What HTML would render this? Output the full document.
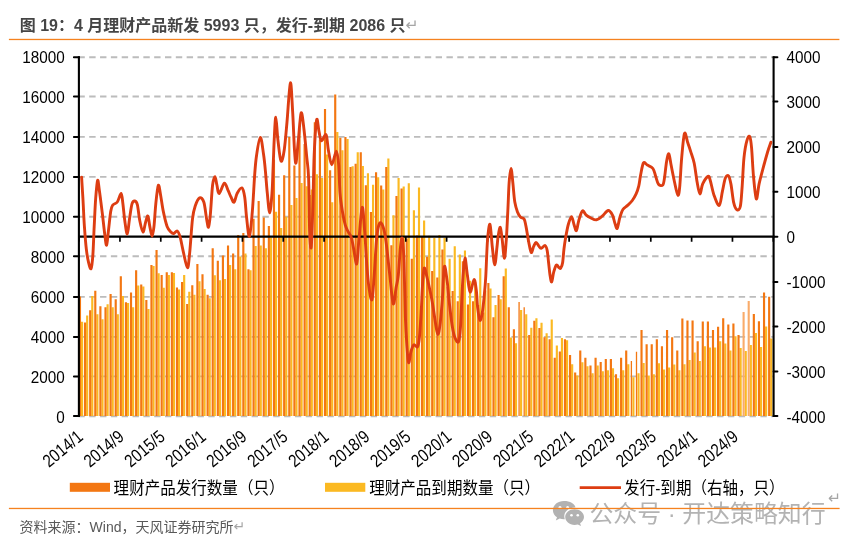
<!DOCTYPE html>
<html lang="zh-CN"><head><meta charset="utf-8"><title>图19</title>
<style>html,body{margin:0;padding:0;background:#fff}svg{display:block;isolation:isolate;mix-blend-mode:multiply}</style></head>
<body>
<svg width="854" height="548" viewBox="0 0 854 548">
<rect width="854" height="548" fill="#ffffff"/>
<g stroke="#bcbcbc" stroke-width="1.9" stroke-dasharray="6.4 4.425" fill="none">
<path d="M78.4 57.30H772.8"/>
<path d="M78.4 96.50H772.8"/>
<path d="M78.4 136.90H772.8"/>
<path d="M78.4 176.90H772.8"/>
<path d="M78.4 216.70H772.8"/>
<path d="M78.4 256.20H772.8"/>
<path d="M78.4 296.90H772.8"/>
<path d="M78.4 336.90H772.8"/>
<path d="M78.4 376.40H772.8"/>
<path d="M78.4 416.40H772.8"/>
</g>
<path fill="#fbb922" d="M81.00 416.0V321.7h2.15V416.0zM86.11 416.0V315.4h2.15V416.0zM91.21 416.0V296.1h2.15V416.0zM96.31 416.0V314.2h2.15V416.0zM101.42 416.0V319.3h2.15V416.0zM106.53 416.0V304.2h2.15V416.0zM111.63 416.0V307.2h2.15V416.0zM116.73 416.0V314.2h2.15V416.0zM121.84 416.0V296.1h2.15V416.0zM126.95 416.0V303.1h2.15V416.0zM132.05 416.0V307.2h2.15V416.0zM137.16 416.0V285.5h2.15V416.0zM142.26 416.0V286.5h2.15V416.0zM147.37 416.0V308.9h2.15V416.0zM152.47 416.0V266h2.15V416.0zM157.58 416.0V273.3h2.15V416.0zM162.68 416.0V287.8h2.15V416.0zM167.78 416.0V275.1h2.15V416.0zM172.89 416.0V273h2.15V416.0zM178.00 416.0V289.4h2.15V416.0zM183.10 416.0V275.1h2.15V416.0zM188.21 416.0V291.7h2.15V416.0zM193.31 416.0V294.8h2.15V416.0zM198.41 416.0V281.2h2.15V416.0zM203.52 416.0V288.9h2.15V416.0zM208.63 416.0V298.3h2.15V416.0zM213.73 416.0V275.2h2.15V416.0zM218.84 416.0V280.2h2.15V416.0zM223.94 416.0V279.1h2.15V416.0zM229.05 416.0V265h2.15V416.0zM234.15 416.0V269.3h2.15V416.0zM239.26 416.0V256.6h2.15V416.0zM244.36 416.0V253.5h2.15V416.0zM249.47 416.0V270.2h2.15V416.0zM254.57 416.0V246.1h2.15V416.0zM259.68 416.0V245.4h2.15V416.0zM264.78 416.0V248.2h2.15V416.0zM269.89 416.0V237.6h2.15V416.0zM274.99 416.0V211.8h2.15V416.0zM280.10 416.0V228.1h2.15V416.0zM285.20 416.0V216.7h2.15V416.0zM290.31 416.0V205.1h2.15V416.0zM295.41 416.0V198.1h2.15V416.0zM300.52 416.0V183h2.15V416.0zM305.62 416.0V186.3h2.15V416.0zM310.73 416.0V189.6h2.15V416.0zM315.83 416.0V174.2h2.15V416.0zM320.94 416.0V178.1h2.15V416.0zM326.04 416.0V154.6h2.15V416.0zM331.15 416.0V202.3h2.15V416.0zM336.25 416.0V132h2.15V416.0zM341.36 416.0V150.3h2.15V416.0zM346.46 416.0V139h2.15V416.0zM351.57 416.0V166.2h2.15V416.0zM356.67 416.0V152.3h2.15V416.0zM361.78 416.0V166.1h2.15V416.0zM366.88 416.0V173.2h2.15V416.0zM371.99 416.0V184.7h2.15V416.0zM377.09 416.0V177.3h2.15V416.0zM382.20 416.0V189.6h2.15V416.0zM387.30 416.0V158.4h2.15V416.0zM392.41 416.0V215.3h2.15V416.0zM397.51 416.0V178.1h2.15V416.0zM402.62 416.0V186.5h2.15V416.0zM407.72 416.0V183.3h2.15V416.0zM412.83 416.0V210.3h2.15V416.0zM417.93 416.0V187.5h2.15V416.0zM423.04 416.0V220.4h2.15V416.0zM428.14 416.0V235.8h2.15V416.0zM433.25 416.0V237.9h2.15V416.0zM438.35 416.0V235h2.15V416.0zM443.46 416.0V238h2.15V416.0zM448.56 416.0V258.8h2.15V416.0zM453.67 416.0V246.3h2.15V416.0zM458.77 416.0V254.6h2.15V416.0zM463.88 416.0V250.4h2.15V416.0zM468.98 416.0V280.7h2.15V416.0zM474.09 416.0V281.9h2.15V416.0zM479.19 416.0V268.2h2.15V416.0zM484.30 416.0V290.6h2.15V416.0zM489.40 416.0V288.5h2.15V416.0zM494.51 416.0V304.9h2.15V416.0zM499.61 416.0V299.2h2.15V416.0zM504.72 416.0V268.4h2.15V416.0zM509.82 416.0V337.4h2.15V416.0zM514.93 416.0V343.3h2.15V416.0zM520.03 416.0V310.1h2.15V416.0zM525.14 416.0V314.2h2.15V416.0zM530.24 416.0V327.7h2.15V416.0zM535.35 416.0V318.3h2.15V416.0zM540.45 416.0V322.8h2.15V416.0zM545.56 416.0V333.3h2.15V416.0zM550.66 416.0V319.5h2.15V416.0zM555.77 416.0V345.4h2.15V416.0zM560.87 416.0V338.1h2.15V416.0zM565.98 416.0V340.2h2.15V416.0zM571.08 416.0V364.2h2.15V416.0zM576.19 416.0V375.4h2.15V416.0zM581.29 416.0V362.2h2.15V416.0zM586.40 416.0V366.2h2.15V416.0zM591.50 416.0V373.2h2.15V416.0zM596.61 416.0V365.4h2.15V416.0zM601.71 416.0V371.3h2.15V416.0zM606.82 416.0V370.3h2.15V416.0zM611.92 416.0V368.3h2.15V416.0zM617.03 416.0V378.3h2.15V416.0zM622.13 416.0V370.3h2.15V416.0zM627.24 416.0V364.2h2.15V416.0zM632.34 416.0V377.3h2.15V416.0zM637.45 416.0V373.2h2.15V416.0zM642.55 416.0V363.1h2.15V416.0zM647.66 416.0V375.4h2.15V416.0zM652.76 416.0V374.2h2.15V416.0zM657.87 416.0V363.3h2.15V416.0zM662.97 416.0V369.4h2.15V416.0zM668.08 416.0V367.4h2.15V416.0zM673.18 416.0V364.4h2.15V416.0zM678.29 416.0V370.3h2.15V416.0zM683.39 416.0V364.2h2.15V416.0zM688.50 416.0V360.1h2.15V416.0zM693.60 416.0V352.4h2.15V416.0zM698.71 416.0V360.9h2.15V416.0zM703.81 416.0V346.3h2.15V416.0zM708.92 416.0V347.5h2.15V416.0zM714.02 416.0V347.5h2.15V416.0zM719.12 416.0V341.3h2.15V416.0zM724.23 416.0V343.4h2.15V416.0zM729.34 416.0V350.4h2.15V416.0zM734.44 416.0V336.3h2.15V416.0zM739.55 416.0V348.1h2.15V416.0zM744.65 416.0V351h2.15V416.0zM749.76 416.0V345.0h2.15V416.0zM754.86 416.0V332.9h2.15V416.0zM759.97 416.0V347.1h2.15V416.0zM765.07 416.0V326.6h2.15V416.0zM770.18 416.0V338.5h2.15V416.0z"/>
<path fill="#f37712" d="M78.90 416.0V296.4h2.15V416.0zM84.01 416.0V322.6h2.15V416.0zM89.11 416.0V310.2h2.15V416.0zM94.22 416.0V290.8h2.15V416.0zM99.32 416.0V306.2h2.15V416.0zM104.43 416.0V307.2h2.15V416.0zM109.53 416.0V293.9h2.15V416.0zM114.64 416.0V299.2h2.15V416.0zM119.74 416.0V276.2h2.15V416.0zM124.85 416.0V302.2h2.15V416.0zM129.95 416.0V292.6h2.15V416.0zM135.06 416.0V270.2h2.15V416.0zM140.16 416.0V284.5h2.15V416.0zM145.27 416.0V300h2.15V416.0zM150.37 416.0V265h2.15V416.0zM155.48 416.0V250.1h2.15V416.0zM160.58 416.0V275.1h2.15V416.0zM165.69 416.0V272.3h2.15V416.0zM170.79 416.0V272.3h2.15V416.0zM175.90 416.0V287.5h2.15V416.0zM181.00 416.0V282.1h2.15V416.0zM186.11 416.0V303.9h2.15V416.0zM191.21 416.0V285.3h2.15V416.0zM196.31 416.0V264.1h2.15V416.0zM201.42 416.0V274.2h2.15V416.0zM206.53 416.0V294.8h2.15V416.0zM211.63 416.0V248.2h2.15V416.0zM216.74 416.0V260.8h2.15V416.0zM221.84 416.0V255.6h2.15V416.0zM226.95 416.0V245.4h2.15V416.0zM232.05 416.0V253.5h2.15V416.0zM237.16 416.0V235.1h2.15V416.0zM242.26 416.0V233h2.15V416.0zM247.37 416.0V269.3h2.15V416.0zM252.47 416.0V218.8h2.15V416.0zM257.58 416.0V200.9h2.15V416.0zM262.68 416.0V217.4h2.15V416.0zM267.79 416.0V226.1h2.15V416.0zM272.89 416.0V159.6h2.15V416.0zM278.00 416.0V194.7h2.15V416.0zM283.10 416.0V175.3h2.15V416.0zM288.21 416.0V136.9h2.15V416.0zM293.31 416.0V165.5h2.15V416.0zM298.42 416.0V128.3h2.15V416.0zM303.52 416.0V143.9h2.15V416.0zM308.62 416.0V195h2.15V416.0zM313.73 416.0V122.2h2.15V416.0zM318.84 416.0V139.5h2.15V416.0zM323.94 416.0V108.9h2.15V416.0zM329.05 416.0V170.2h2.15V416.0zM334.15 416.0V94.5h2.15V416.0zM339.25 416.0V137.8h2.15V416.0zM344.36 416.0V137.1h2.15V416.0zM349.47 416.0V167.1h2.15V416.0zM354.57 416.0V163.8h2.15V416.0zM359.68 416.0V152.3h2.15V416.0zM364.78 416.0V185.3h2.15V416.0zM369.88 416.0V212.1h2.15V416.0zM374.99 416.0V172.3h2.15V416.0zM380.10 416.0V185.4h2.15V416.0zM385.20 416.0V166.9h2.15V416.0zM390.31 416.0V245.2h2.15V416.0zM395.41 416.0V196h2.15V416.0zM400.51 416.0V188.5h2.15V416.0zM405.62 416.0V238.6h2.15V416.0zM410.73 416.0V258.8h2.15V416.0zM415.83 416.0V235.6h2.15V416.0zM420.94 416.0V235.9h2.15V416.0zM426.04 416.0V256.8h2.15V416.0zM431.14 416.0V271.1h2.15V416.0zM436.25 416.0V277.5h2.15V416.0zM441.36 416.0V249.4h2.15V416.0zM446.46 416.0V286.8h2.15V416.0zM451.57 416.0V291h2.15V416.0zM456.67 416.0V301.2h2.15V416.0zM461.78 416.0V261.3h2.15V416.0zM466.88 416.0V304.4h2.15V416.0zM471.99 416.0V301.2h2.15V416.0zM477.09 416.0V305h2.15V416.0zM482.20 416.0V312.4h2.15V416.0zM487.30 416.0V283h2.15V416.0zM492.41 416.0V317.3h2.15V416.0zM497.51 416.0V294.9h2.15V416.0zM502.62 416.0V276.2h2.15V416.0zM507.72 416.0V307.3h2.15V416.0zM512.83 416.0V329.2h2.15V416.0zM518.43 416.0V302.1h1.3V416.0zM523.54 416.0V307.3h1.3V416.0zM528.14 416.0V335.1h2.15V416.0zM533.25 416.0V320.7h2.15V416.0zM538.35 416.0V328.1h2.15V416.0zM543.46 416.0V337.2h2.15V416.0zM548.56 416.0V339.2h2.15V416.0zM553.67 416.0V357.8h2.15V416.0zM558.77 416.0V351.6h2.15V416.0zM563.88 416.0V339.3h2.15V416.0zM568.98 416.0V354.9h2.15V416.0zM574.09 416.0V372.4h2.15V416.0zM579.19 416.0V350.5h2.15V416.0zM584.30 416.0V357.8h2.15V416.0zM589.40 416.0V365.4h2.15V416.0zM594.50 416.0V357.8h2.15V416.0zM599.61 416.0V362.1h2.15V416.0zM604.72 416.0V359h2.15V416.0zM609.82 416.0V359h2.15V416.0zM614.93 416.0V374.2h2.15V416.0zM620.03 416.0V357.8h2.15V416.0zM625.13 416.0V350.5h2.15V416.0zM630.74 416.0V361h1.3V416.0zM635.85 416.0V351.7h1.3V416.0zM640.45 416.0V329.9h2.15V416.0zM645.56 416.0V344.3h2.15V416.0zM650.66 416.0V344.3h2.15V416.0zM655.76 416.0V339.3h2.15V416.0zM660.87 416.0V346.3h2.15V416.0zM665.98 416.0V330.1h2.15V416.0zM671.08 416.0V337.2h2.15V416.0zM676.19 416.0V350.4h2.15V416.0zM681.29 416.0V318.4h2.15V416.0zM686.39 416.0V320.5h2.15V416.0zM691.50 416.0V320.5h2.15V416.0zM696.61 416.0V341.3h2.15V416.0zM701.71 416.0V321.4h2.15V416.0zM706.82 416.0V321.4h2.15V416.0zM711.92 416.0V330.1h2.15V416.0zM717.02 416.0V326.8h2.15V416.0zM722.13 416.0V318.3h2.15V416.0zM727.24 416.0V324.6h2.15V416.0zM732.34 416.0V323.6h2.15V416.0zM737.45 416.0V334.9h2.15V416.0zM752.76 416.0V314.1h2.15V416.0zM757.87 416.0V321.2h2.15V416.0zM762.97 416.0V292.5h2.15V416.0zM768.08 416.0V296.8h2.15V416.0z"/>
<path fill="#f9ab6a" d="M742.55 416.0V312.1h2.1V416.0zM747.66 416.0V301.1h2.1V416.0z"/>
<path d="M78 236.65H774.5" stroke="#000" stroke-width="2.1" fill="none"/>
<path d="M79.10 236.65v5M119.94 236.65v5M160.77 236.65v5M201.60 236.65v5M242.44 236.65v5M283.27 236.65v5M324.11 236.65v5M364.95 236.65v5M405.78 236.65v5M446.62 236.65v5M487.45 236.65v5M528.28 236.65v5M569.12 236.65v5M609.96 236.65v5M650.79 236.65v5M691.62 236.65v5M732.46 236.65v5M773.30 236.65v5" stroke="#000" stroke-width="1.7" fill="none"/>
<path d="M78.9 56.3V417.05" stroke="#000" stroke-width="2.1" fill="none"/>
<path d="M773.6 56.3V417.05" stroke="#000" stroke-width="2.1" fill="none"/>
<path d="M73.9 57.30H79M73.9 96.50H79M73.9 136.90H79M73.9 176.90H79M73.9 216.70H79M73.9 256.20H79M73.9 296.90H79M73.9 336.90H79M73.9 376.40H79M73.9 416.00H79M773.6 57.30H777.4M773.6 101.60H777.4M773.6 146.90H777.4M773.6 191.80H777.4M773.6 236.65H777.4M773.6 281.90H777.4M773.6 326.60H777.4M773.6 371.40H777.4M773.6 416.00H777.4" stroke="#000" stroke-width="2" stroke-linecap="round" fill="none"/>
<path d="M81.6 177.1C81.8 180.6 82.4 190.0 82.9 198.2C83.4 206.4 83.8 217.9 84.4 226.4C85.0 234.9 85.6 242.9 86.3 248.9C87.0 254.9 87.7 258.8 88.5 262.1C89.3 265.4 90.3 269.9 91.0 268.7C91.7 267.4 92.4 261.6 92.9 254.6C93.4 247.6 93.7 235.8 94.2 226.4C94.7 217.0 95.1 205.9 95.7 198.2C96.3 190.5 97.0 181.6 97.6 180.3C98.2 179.1 98.6 185.2 99.4 190.7C100.2 196.2 101.4 206.0 102.3 213.2C103.2 220.4 104.0 228.6 104.7 233.9C105.4 239.2 106.0 245.8 106.6 245.2C107.2 244.6 107.8 235.8 108.5 230.2C109.2 224.6 110.0 215.6 110.7 211.4C111.4 207.2 111.5 206.8 112.6 205.2C113.7 203.6 115.9 203.9 117.3 202.0C118.7 200.1 120.2 193.2 121.1 193.5C122.0 193.8 122.3 199.2 122.9 203.8C123.5 208.4 124.1 215.8 124.8 220.8C125.5 225.8 126.5 234.2 127.3 233.9C128.1 233.6 128.7 223.9 129.5 218.9C130.3 213.9 131.1 206.8 132.0 203.8C132.9 200.8 133.9 200.8 134.8 201.0C135.7 201.2 136.6 201.5 137.4 204.8C138.2 208.1 138.9 216.3 139.8 220.8C140.7 225.3 142.1 231.7 143.0 232.0C143.9 232.3 144.7 225.3 145.5 222.6C146.3 219.9 147.2 215.4 147.9 216.0C148.6 216.6 149.1 223.0 149.8 226.4C150.5 229.8 151.4 236.2 152.1 236.2C152.8 236.2 153.4 231.8 154.0 226.4C154.6 221.0 155.1 210.6 155.8 203.8C156.5 197.0 157.5 187.0 158.3 185.4C159.1 183.8 159.7 190.1 160.5 194.4C161.3 198.7 162.2 206.1 163.3 211.4C164.4 216.7 165.8 223.0 167.1 226.4C168.4 229.8 169.8 230.8 170.9 232.0C172.0 233.2 172.6 233.7 173.7 233.5C174.8 233.3 176.3 230.4 177.4 231.1C178.5 231.8 179.4 234.4 180.3 237.7C181.2 241.0 181.9 245.8 183.1 250.8C184.3 255.8 186.3 267.4 187.4 267.7C188.5 268.0 188.8 260.8 189.7 252.7C190.5 244.6 191.6 226.7 192.5 218.9C193.4 211.1 194.1 209.2 195.3 205.7C196.5 202.2 198.2 198.4 199.6 197.8C201.0 197.2 202.6 198.5 203.8 202.0C205.0 205.5 205.8 214.7 206.6 218.9C207.4 223.1 207.9 227.9 208.5 227.3C209.1 226.7 209.6 222.2 210.3 215.1C211.0 208.0 211.8 191.4 212.6 185.0C213.4 178.6 214.3 176.6 215.0 176.6C215.7 176.6 216.2 182.2 216.9 185.0C217.6 187.8 217.9 193.8 219.2 193.5C220.4 193.2 222.9 183.7 224.4 183.2C225.9 182.7 227.1 188.4 228.2 190.7C229.3 193.0 230.0 195.1 231.0 197.0C232.0 198.9 233.0 202.8 234.0 202.2C235.0 201.6 235.9 195.6 237.2 193.2C238.5 190.8 240.7 187.3 241.9 187.9C243.2 188.5 243.9 192.1 244.7 197.0C245.5 201.9 245.8 211.0 246.6 217.6C247.4 224.2 248.4 237.3 249.4 236.4C250.4 235.5 251.4 222.3 252.3 212.0C253.2 201.7 254.0 183.8 254.7 174.4C255.4 165.0 255.6 162.0 256.5 155.8C257.4 149.6 259.1 137.7 260.3 137.4C261.5 137.1 262.6 148.2 263.5 154.0C264.4 159.8 264.9 165.5 265.5 172.0C266.1 178.5 266.6 186.4 267.3 193.2C268.0 200.0 268.9 212.9 269.7 212.9C270.5 212.9 271.4 201.2 272.0 193.2C272.6 185.2 272.8 173.9 273.2 165.0C273.6 156.1 273.8 147.9 274.2 140.0C274.6 132.1 275.2 117.2 275.8 117.3C276.4 117.4 277.1 133.5 278.0 140.8C278.9 148.1 280.0 159.5 281.0 161.1C282.0 162.7 283.2 156.7 284.2 150.2C285.2 143.7 286.0 133.2 287.0 122.0C288.0 110.8 289.4 84.5 290.4 82.9C291.3 81.3 292.0 101.4 292.7 112.6C293.4 123.8 293.9 141.8 294.5 150.2C295.1 158.6 295.4 164.6 296.0 163.0C296.6 161.4 297.4 149.1 298.3 140.8C299.2 132.5 300.2 114.9 301.1 113.0C302.1 111.1 303.1 122.0 304.0 129.5C304.9 136.9 306.0 149.6 306.8 157.7C307.6 165.8 308.1 165.8 308.6 178.0C309.1 190.2 309.2 219.2 309.6 230.8C310.0 242.4 310.6 249.3 311.1 247.7C311.6 246.1 312.0 232.1 312.4 221.4C312.8 210.8 313.1 195.7 313.4 183.8C313.7 171.9 313.8 160.9 314.4 150.2C314.9 139.5 315.9 122.8 316.7 119.7C317.5 116.6 318.2 127.9 319.0 131.4C319.8 134.9 320.2 140.2 321.4 140.8C322.6 141.4 324.9 133.2 326.1 134.8C327.3 136.4 327.4 145.2 328.4 150.2C329.3 155.2 330.5 164.7 331.8 164.8C333.1 165.0 335.2 151.0 336.3 151.1C337.4 151.2 338.1 158.2 338.7 165.2C339.3 172.2 339.4 185.4 340.0 193.2C340.6 201.0 341.6 206.7 342.5 212.0C343.4 217.3 344.4 221.9 345.3 225.2C346.2 228.5 347.1 229.7 348.1 231.7C349.1 233.7 350.4 234.4 351.3 237.4C352.2 240.4 352.9 245.2 353.8 249.6C354.7 254.0 355.9 265.4 356.7 263.8C357.5 262.2 358.0 249.4 358.9 240.0C359.8 230.6 361.2 208.7 362.2 207.4C363.2 206.1 363.9 222.4 364.7 232.0C365.5 241.6 366.1 255.6 366.8 265.0C367.5 274.4 368.2 282.5 369.1 288.3C370.0 294.1 371.1 301.8 372.0 299.6C372.9 297.4 373.4 285.5 374.2 275.2C375.0 264.9 375.8 246.2 376.7 237.6C377.6 229.0 378.5 225.4 379.5 223.5C380.5 221.6 381.8 223.3 382.9 226.3C384.0 229.3 384.9 233.2 386.0 241.4C387.1 249.6 388.6 264.8 389.8 275.2C391.0 285.6 392.1 301.7 393.2 303.7C394.3 305.7 395.3 291.8 396.2 287.0C397.1 282.2 397.6 281.9 398.3 275.2C399.0 268.5 399.8 253.1 400.5 247.0C401.2 240.9 401.8 236.0 402.4 238.5C403.0 241.0 403.5 248.8 404.0 262.0C404.5 275.2 404.9 303.6 405.4 317.6C405.9 331.6 406.4 338.3 406.9 345.8C407.4 353.3 407.9 361.8 408.6 362.7C409.3 363.6 410.1 354.4 411.0 351.4C411.9 348.4 412.7 345.6 413.8 344.8C414.9 344.0 416.7 348.1 417.6 346.7C418.6 345.3 418.9 342.8 419.5 336.4C420.1 330.0 420.9 316.9 421.4 308.2C421.9 299.5 422.1 290.7 422.6 284.0C423.1 277.3 423.4 268.8 424.2 268.0C425.0 267.2 426.1 273.9 427.4 279.0C428.6 284.1 430.3 291.4 431.7 298.8C433.1 306.2 434.5 317.2 435.5 323.2C436.5 329.1 437.1 334.5 437.9 334.5C438.7 334.5 439.4 329.1 440.2 323.2C440.9 317.2 441.7 308.2 442.4 298.8C443.1 289.4 443.5 269.7 444.3 266.7C445.1 263.7 446.2 274.5 447.1 280.8C448.0 287.1 448.6 296.7 449.5 304.4C450.4 312.1 451.4 321.4 452.4 327.0C453.3 332.6 454.2 335.9 455.2 338.3C456.2 340.8 457.7 343.6 458.6 341.7C459.5 339.8 460.0 334.1 460.5 327.0C461.0 319.9 461.4 307.1 461.8 298.8C462.2 290.5 462.5 283.8 463.0 277.0C463.5 270.2 464.3 258.3 465.0 258.0C465.7 257.7 466.5 269.5 467.4 275.2C468.2 280.9 469.0 291.4 470.1 292.1C471.2 292.8 473.0 279.9 474.0 279.6C475.0 279.3 475.7 285.4 476.3 290.2C476.9 295.0 477.1 303.2 477.7 308.2C478.3 313.2 479.2 319.8 480.0 320.4C480.8 321.0 481.7 316.2 482.4 312.0C483.1 307.8 483.7 301.0 484.3 295.0C484.9 289.0 485.3 285.1 485.8 276.0C486.3 266.9 486.8 249.1 487.5 240.5C488.2 231.9 489.2 223.2 490.0 224.3C490.8 225.4 491.5 240.2 492.3 247.0C493.1 253.8 494.0 264.9 494.8 264.9C495.6 264.9 496.4 251.8 497.0 247.0C497.6 242.2 497.6 239.1 498.2 235.8C498.8 232.5 499.6 226.8 500.3 227.4C501.0 228.0 501.5 234.4 502.2 239.6C502.9 244.8 503.7 258.4 504.4 258.4C505.1 258.4 505.7 247.4 506.3 239.6C506.9 231.8 507.3 220.8 507.8 211.4C508.3 202.0 508.6 190.3 509.1 183.2C509.6 176.0 510.4 168.5 511.0 168.5C511.6 168.5 512.3 177.6 512.9 183.2C513.5 188.8 514.0 197.2 514.8 202.0C515.6 206.8 516.7 209.8 517.6 212.3C518.5 214.8 519.3 215.8 520.4 217.0C521.5 218.2 523.3 217.7 524.2 219.3C525.1 220.9 525.2 222.6 526.0 226.4C526.8 230.2 527.8 237.7 528.7 242.0C529.6 246.3 530.4 251.8 531.2 252.5C532.0 253.2 532.8 248.2 533.6 246.5C534.4 244.8 535.1 242.6 536.0 242.5C536.9 242.4 537.9 244.9 538.7 245.9C539.6 246.9 540.0 248.4 541.1 248.3C542.2 248.2 544.1 245.1 545.1 245.5C546.1 245.9 546.6 247.7 547.2 250.6C547.8 253.5 548.1 258.7 548.6 262.8C549.1 266.9 549.5 271.8 550.0 275.0C550.5 278.2 551.1 282.5 551.7 282.0C552.3 281.5 552.9 275.0 553.7 272.2C554.5 269.4 555.4 265.9 556.3 265.1C557.2 264.3 558.2 267.0 558.9 267.5C559.6 268.0 560.1 269.0 560.7 268.2C561.3 267.4 562.1 266.1 562.6 262.8C563.1 259.6 563.5 252.8 564.0 248.7C564.5 244.6 564.8 242.5 565.5 238.5C566.2 234.5 567.3 228.1 568.3 224.5C569.3 220.9 570.5 216.7 571.5 216.7C572.5 216.7 573.2 222.2 574.0 224.5C574.8 226.8 575.6 231.2 576.4 230.6C577.2 230.0 577.7 224.1 578.7 220.8C579.7 217.5 581.1 211.9 582.4 211.0C583.6 210.1 584.8 214.0 586.2 215.2C587.6 216.4 589.2 217.2 590.9 218.0C592.6 218.8 594.6 220.1 596.5 219.8C598.4 219.5 600.2 217.7 602.2 216.1C604.2 214.5 606.5 210.7 608.2 210.5C609.9 210.3 611.4 213.0 612.5 215.2C613.6 217.4 614.2 221.4 615.0 223.6C615.8 225.8 616.4 229.4 617.2 228.3C618.0 227.2 619.0 220.1 620.0 217.0C621.0 213.9 621.6 211.4 622.9 209.5C624.2 207.6 626.0 206.9 627.6 205.4C629.2 203.9 630.9 202.4 632.3 200.5C633.7 198.6 634.9 196.6 636.0 194.2C637.1 191.8 638.0 189.1 638.8 185.8C639.6 182.5 639.9 178.3 640.7 174.5C641.5 170.7 642.4 164.5 643.5 162.9C644.6 161.3 645.7 164.2 647.3 165.1C648.9 166.0 651.5 166.6 652.9 168.5C654.3 170.4 654.8 173.8 655.7 176.4C656.6 179.0 657.3 182.9 658.5 184.3C659.7 185.7 661.9 186.1 662.9 184.8C663.9 183.5 664.1 180.3 664.7 176.4C665.3 172.5 665.9 165.2 666.6 161.4C667.3 157.6 668.1 153.2 668.9 153.8C669.6 154.4 670.2 160.4 671.1 165.1C672.0 169.8 673.4 177.0 674.5 182.0C675.6 187.0 677.0 194.6 677.9 195.2C678.8 195.8 679.2 192.1 679.8 185.8C680.4 179.5 680.9 166.3 681.7 157.6C682.5 148.9 683.5 136.0 684.5 133.5C685.5 131.0 686.6 139.2 687.7 142.6C688.9 146.0 690.3 150.4 691.4 153.8C692.5 157.2 693.2 158.5 694.2 163.2C695.2 167.9 696.2 176.9 697.1 182.0C698.0 187.1 699.0 193.6 699.9 193.9C700.8 194.2 701.4 186.8 702.7 183.9C704.1 181.0 706.8 177.0 708.0 176.4C709.2 175.8 709.2 177.1 710.2 180.2C711.2 183.3 712.5 191.0 714.0 195.2C715.5 199.4 717.8 206.1 719.2 205.5C720.6 204.9 721.4 195.9 722.4 191.4C723.4 186.9 724.3 180.9 725.3 178.3C726.3 175.7 727.7 175.1 728.6 176.0C729.5 176.9 730.0 179.5 730.9 183.9C731.8 188.3 732.7 198.4 733.7 202.7C734.7 207.0 735.8 209.1 736.9 209.7C738.0 210.3 739.4 210.5 740.3 206.5C741.2 202.5 741.6 194.0 742.2 185.8C742.8 177.7 743.2 165.1 744.0 157.6C744.8 150.1 745.9 144.2 746.9 140.7C747.9 137.2 748.9 135.2 749.7 136.5C750.5 137.8 751.0 141.5 751.6 148.2C752.2 154.8 752.7 167.9 753.5 176.4C754.3 184.9 755.4 197.7 756.3 198.9C757.2 200.2 758.0 188.9 759.1 183.9C760.2 178.9 761.5 174.2 762.9 168.9C764.3 163.6 766.3 156.4 767.6 152.0C768.9 147.6 770.4 143.8 770.9 142.2" stroke="#dd3d12" stroke-width="2.9" fill="none" stroke-linejoin="round" stroke-linecap="round"/>
<g font-family="'Liberation Sans', Arial, sans-serif" font-size="15.3" fill="#000">
<text transform="translate(64.8 63.00) scale(1 1.045)" text-anchor="end">18000</text>
<text transform="translate(64.8 102.97) scale(1 1.045)" text-anchor="end">16000</text>
<text transform="translate(64.8 142.94) scale(1 1.045)" text-anchor="end">14000</text>
<text transform="translate(64.8 182.91) scale(1 1.045)" text-anchor="end">12000</text>
<text transform="translate(64.8 222.88) scale(1 1.045)" text-anchor="end">10000</text>
<text transform="translate(64.8 262.85) scale(1 1.045)" text-anchor="end">8000</text>
<text transform="translate(64.8 302.82) scale(1 1.045)" text-anchor="end">6000</text>
<text transform="translate(64.8 342.79) scale(1 1.045)" text-anchor="end">4000</text>
<text transform="translate(64.8 382.76) scale(1 1.045)" text-anchor="end">2000</text>
<text transform="translate(64.8 422.73) scale(1 1.045)" text-anchor="end">0</text>
<text transform="translate(786.5 63.00) scale(1 1.045)">4000</text>
<text transform="translate(786.5 107.97) scale(1 1.045)">3000</text>
<text transform="translate(786.5 152.94) scale(1 1.045)">2000</text>
<text transform="translate(786.5 197.91) scale(1 1.045)">1000</text>
<text transform="translate(786.5 242.88) scale(1 1.045)">0</text>
<text transform="translate(786.5 287.85) scale(1 1.045)">-1000</text>
<text transform="translate(786.5 332.82) scale(1 1.045)">-2000</text>
<text transform="translate(786.5 377.79) scale(1 1.045)">-3000</text>
<text transform="translate(786.5 422.76) scale(1 1.045)">-4000</text>
<text transform="translate(84.20 438.7) rotate(-39.7) scale(1 1.2)" text-anchor="end" font-size="15">2014/1</text>
<text transform="translate(125.15 438.7) rotate(-39.7) scale(1 1.2)" text-anchor="end" font-size="15">2014/9</text>
<text transform="translate(166.10 438.7) rotate(-39.7) scale(1 1.2)" text-anchor="end" font-size="15">2015/5</text>
<text transform="translate(207.05 438.7) rotate(-39.7) scale(1 1.2)" text-anchor="end" font-size="15">2016/1</text>
<text transform="translate(248.00 438.7) rotate(-39.7) scale(1 1.2)" text-anchor="end" font-size="15">2016/9</text>
<text transform="translate(288.95 438.7) rotate(-39.7) scale(1 1.2)" text-anchor="end" font-size="15">2017/5</text>
<text transform="translate(329.90 438.7) rotate(-39.7) scale(1 1.2)" text-anchor="end" font-size="15">2018/1</text>
<text transform="translate(370.85 438.7) rotate(-39.7) scale(1 1.2)" text-anchor="end" font-size="15">2018/9</text>
<text transform="translate(411.80 438.7) rotate(-39.7) scale(1 1.2)" text-anchor="end" font-size="15">2019/5</text>
<text transform="translate(452.75 438.7) rotate(-39.7) scale(1 1.2)" text-anchor="end" font-size="15">2020/1</text>
<text transform="translate(493.70 438.7) rotate(-39.7) scale(1 1.2)" text-anchor="end" font-size="15">2020/9</text>
<text transform="translate(534.65 438.7) rotate(-39.7) scale(1 1.2)" text-anchor="end" font-size="15">2021/5</text>
<text transform="translate(575.60 438.7) rotate(-39.7) scale(1 1.2)" text-anchor="end" font-size="15">2022/1</text>
<text transform="translate(616.55 438.7) rotate(-39.7) scale(1 1.2)" text-anchor="end" font-size="15">2022/9</text>
<text transform="translate(657.50 438.7) rotate(-39.7) scale(1 1.2)" text-anchor="end" font-size="15">2023/5</text>
<text transform="translate(698.45 438.7) rotate(-39.7) scale(1 1.2)" text-anchor="end" font-size="15">2024/1</text>
<text transform="translate(739.40 438.7) rotate(-39.7) scale(1 1.2)" text-anchor="end" font-size="15">2024/9</text>
</g>
<rect x="69.8" y="482.8" width="40.2" height="9" fill="#f37712"/>
<rect x="325" y="482.8" width="40.3" height="9" fill="#fbb922"/>
<path d="M579.7 487.6H621" stroke="#dd3d12" stroke-width="2.9"/>
<g font-family="'Liberation Sans', 'Noto Sans CJK SC', sans-serif" font-size="15.55" fill="#000">
<text transform="translate(113.6 493.9) scale(1 1.08)">理财产品发行数量（只）</text>
<text transform="translate(369.2 493.9) scale(1 1.08)">理财产品到期数量（只）</text>
<text transform="translate(624.1 493.9) scale(1 1.08)">发行-到期（右轴，只）</text>
</g>
<g fill="#b2b2b2">
<path d="M563.9 501c-6.1 0-11 4.1-11 9.2 0 2.9 1.6 5.4 4.1 7.1l-1.2 3.3 3.9-2c1.3.4 2.7.6 4.2.6h.9c-.3-.9-.5-1.9-.5-2.900 0-4.900 4.600-8.800 10.300-8.800h.9c-1-3.900-5.400-6.500-11.600-6.500z"/>
<path d="M574.600 509.300c-5.200 0-9.400 3.500-9.400 7.800s4.200 7.800 9.400 7.800c1.100 0 2.200-.2 3.200-.5l3.200 1.700-.9-2.800c2.300-1.400 3.900-3.700 3.900-6.200 0-4.300-4.200-7.800-9.400-7.800z"/>
</g>
<g fill="#fff"><circle cx="560" cy="507.600" r="1.500"/><circle cx="567.600" cy="507.600" r="1.500"/><circle cx="571.500" cy="515.300" r="1.300"/><circle cx="577.800" cy="515.300" r="1.300"/></g>
<text x="589.4" y="522.4" font-family="'Liberation Sans', 'Noto Sans CJK SC', sans-serif" font-size="23.9" fill="#b3b3b3">公众号 · 开达策略知行</text>
<rect x="8.9" y="38.82" width="830.5" height="1.3" fill="#f5821f"/>
<rect x="8.9" y="507.82" width="830.7" height="1.3" fill="#f5821f"/>
<text x="19.7" y="31.3" font-family="'Liberation Sans', 'Noto Sans CJK SC', sans-serif" font-size="16" font-weight="bold" fill="#454545">图 19：4 月理财产品新发 5993 只，发行-到期 2086 只<tspan font-weight="normal" fill="#a6a6a6" font-size="15.5" dy="-1.5" font-family="'DejaVu Sans', sans-serif">↵</tspan></text>
<text x="19.6" y="531.6" font-family="'Liberation Sans', 'Noto Sans CJK SC', sans-serif" font-size="14" fill="#595959">资料来源：Wind，天风证券研究所<tspan fill="#a6a6a6" font-size="14" dy="-1" font-family="'DejaVu Sans', sans-serif">↵</tspan></text>
<text x="828" y="502.5" font-family="'DejaVu Sans', sans-serif" font-size="15.5" fill="#a6a6a6">↵</text>
</svg>
</body></html>
